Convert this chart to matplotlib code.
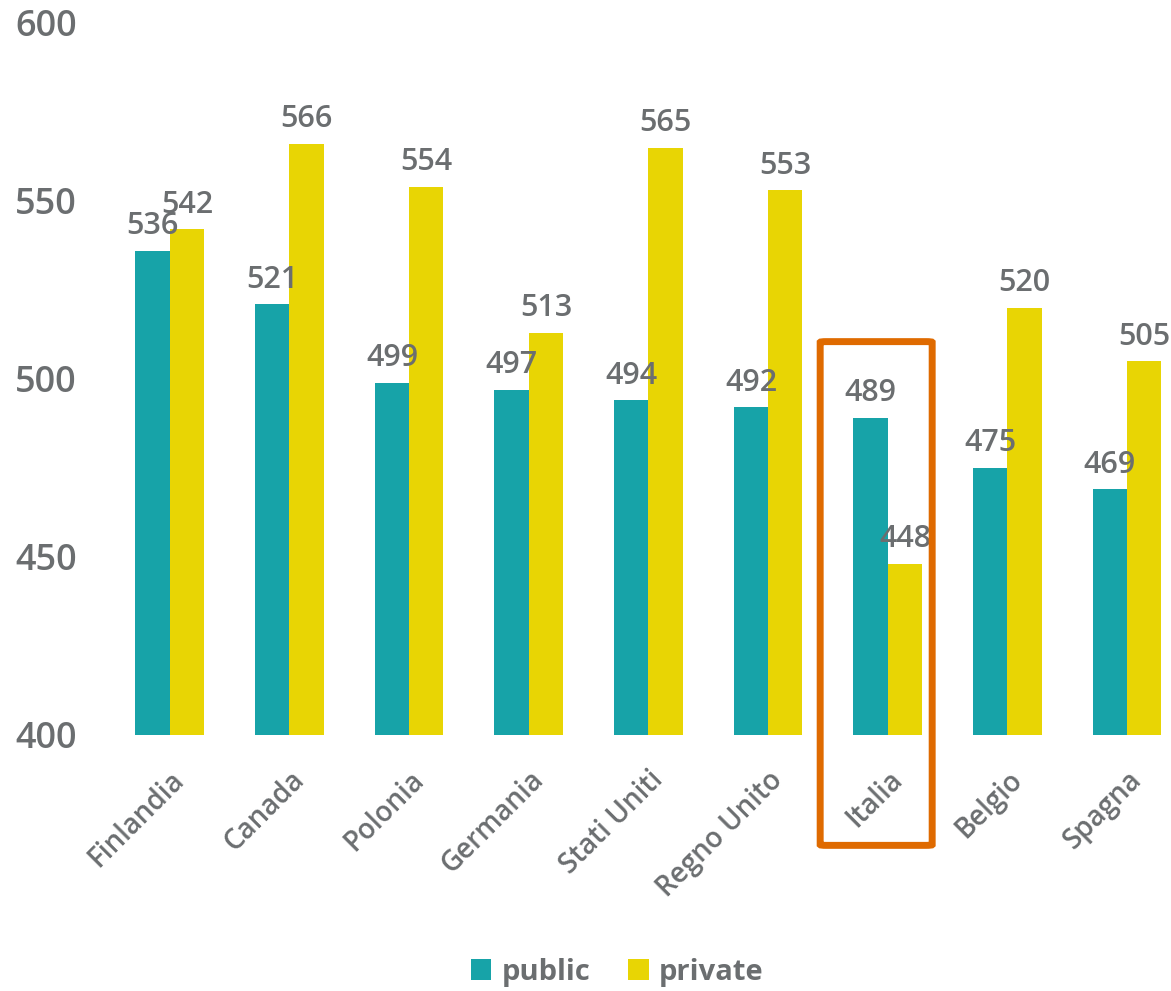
import matplotlib
matplotlib.use("Agg")
import matplotlib.pyplot as plt
from matplotlib.patches import FancyBboxPatch, Patch
import numpy as np

categories = ["Finlandia", "Canada", "Polonia", "Germania", "Stati Uniti",
              "Regno Unito", "Italia", "Belgio", "Spagna"]
public = [536, 521, 499, 497, 494, 492, 489, 475, 469]
private = [542, 566, 554, 513, 565, 553, 448, 520, 505]
series_names = ["public", "private"]
yticks = [400, 450, 500, 550, 600]
highlight = "Italia"

TEAL = "#17A3A8"
YELLOW = "#E8D504"
GRAY = "#6B6E70"
ORANGE = "#DF6A00"

plt.rcParams['font.family'] = ['Open Sans', 'DejaVu Sans']

fig = plt.figure(figsize=(11.71, 9.91), dpi=100)
W, H = 1171, 991
left_px, right_px = 110, 1163
top_px, bot_px = 23, 735
ax = fig.add_axes([left_px / W, 1 - bot_px / H, (right_px - left_px) / W, (bot_px - top_px) / H])

x = np.arange(len(categories))
bw = 0.287
b1 = ax.bar(x - bw / 2, public, bw, color=TEAL, label=series_names[0], zorder=2)
b2 = ax.bar(x + bw / 2, private, bw, color=YELLOW, label=series_names[1], zorder=2)

ax.set_ylim(400, 600)
ax.set_xlim(-0.5, 8.3)
ax.set_yticks(yticks)
ax.set_yticklabels([str(t) for t in yticks], fontsize=26, color=GRAY, fontweight='semibold')
ax.set_xticks(x)
ax.set_xticklabels(categories, rotation=45, ha='right', va='top', rotation_mode='anchor',
                   fontsize=20, color=GRAY, fontweight='semibold')
ax.tick_params(axis='y', length=0, pad=24)
ax.tick_params(axis='x', length=0, pad=22)
for s in ax.spines.values():
    s.set_visible(False)

for bars, vals in ((b1, public), (b2, private)):
    for r, v in zip(bars, vals):
        ax.annotate(str(v), (r.get_x() + r.get_width() / 2, v), xytext=(0, 12),
                    textcoords='offset points', ha='center', va='baseline',
                    fontsize=22, color=GRAY, fontweight='semibold', zorder=3)

# highlight box around Italia
i = categories.index(highlight)
box = FancyBboxPatch((i - 0.565, 369.0), 0.936, 141.5,
                     boxstyle="round,pad=0,rounding_size=0.05",
                     mutation_aspect=4, fill=False, edgecolor=ORANGE, linewidth=5,
                     clip_on=False, zorder=4, transform=ax.transData)
ax.add_patch(box)

handles = [Patch(facecolor=TEAL), Patch(facecolor=YELLOW)]
fig.legend(handles, series_names, loc='center', bbox_to_anchor=(0.527, 0.019),
           ncol=2, frameon=False, handlelength=0.7, handleheight=0.7,
           handletextpad=0.35, columnspacing=1.3,
           prop={'size': 21, 'weight': 'bold'}, labelcolor=GRAY)

fig.savefig("out.png", dpi=100)
